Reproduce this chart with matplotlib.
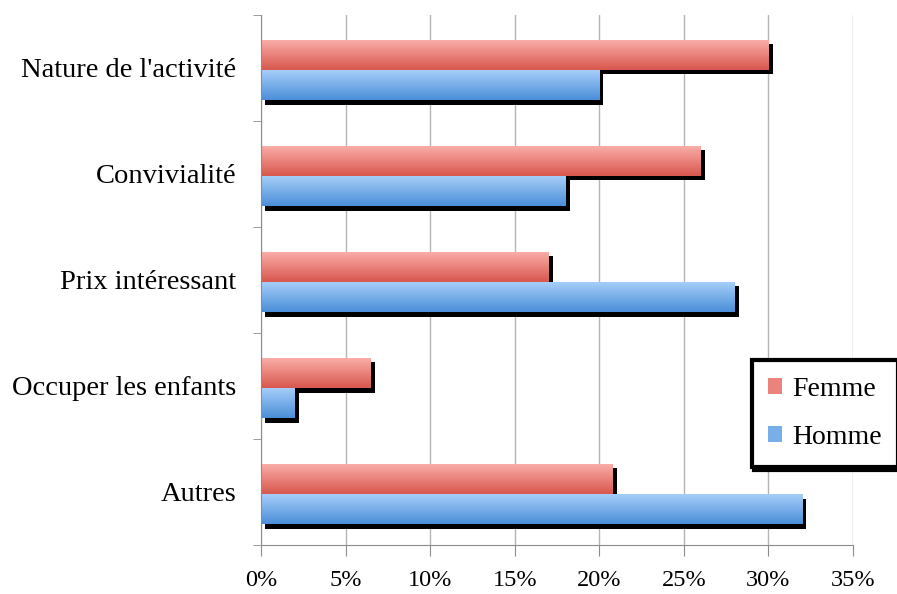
import matplotlib
matplotlib.use("Agg")
import matplotlib.pyplot as plt
import matplotlib.patheffects as pe
from matplotlib.colors import LinearSegmentedColormap
from matplotlib.patches import Patch
from matplotlib.ticker import FuncFormatter
import numpy as np

# Motifs de participation, par sexe (en %)
categories = ["Nature de l'activité", "Convivialité", "Prix intéressant",
              "Occuper les enfants", "Autres"]
femme = [30, 26, 17, 6.5, 20.8]
homme = [20, 18, 28, 2, 32]

plt.rcParams['font.family'] = ['Liberation Serif', 'DejaVu Serif']

fig = plt.figure(figsize=(8.97, 5.94), dpi=100)
ax = fig.add_axes([0.291, 0.0825, 0.66, 0.8925])

cmap_f = LinearSegmentedColormap.from_list('f', ['#fbb0ab', '#d8574e'])
cmap_h = LinearSegmentedColormap.from_list('h', ['#a9cffa', '#4a8fd8'])
grad = np.linspace(0, 1, 64).reshape(-1, 1)

y = np.arange(len(categories)) + 0.02
h = 0.285
shadow = [pe.SimplePatchShadow(offset=(3, -3.2), shadow_rgbFace='black', alpha=1.0), pe.Normal()]


def draw_bars(vals, pos, cmap, z):
    bars = ax.barh(pos, vals, height=h, color=cmap(0.5), zorder=z)
    for b in bars:
        b.set_path_effects(shadow)
        x0, y0 = b.get_x(), b.get_y()
        w, hh = b.get_width(), b.get_height()
        im = ax.imshow(grad, cmap=cmap, aspect='auto', origin='upper',
                       extent=(x0, x0 + w, y0 + hh, y0), zorder=z + 0.05)
        im.set_clip_path(b)
    return bars


draw_bars(femme, y - h / 2, cmap_f, 2)
draw_bars(homme, y + h / 2, cmap_h, 2.2)

ax.set_xlim(0, 35)
ax.set_ylim(len(categories) - 0.5, -0.5)
ax.set_xticks(np.arange(0, 36, 5))
ax.xaxis.set_major_formatter(FuncFormatter(lambda v, p: f"{v:.0f}%"))
ax.set_yticks(np.arange(len(categories)))
ax.set_yticklabels(categories)
ax.set_yticks(np.arange(-0.5, len(categories)), minor=True)

ax.set_axisbelow(True)
ax.grid(axis='x', color='#b5b5b5', linewidth=1)
for s in ['top', 'right']:
    ax.spines[s].set_visible(False)
for s in ['left', 'bottom']:
    ax.spines[s].set_color('#8c8c8c')
ax.tick_params(axis='y', which='major', length=0, pad=18, labelsize=20.5)
ax.tick_params(axis='y', which='minor', length=6, color='#8c8c8c')
ax.tick_params(axis='x', length=8, color='#8c8c8c', pad=10, labelsize=17.5)

handles = [Patch(facecolor=cmap_f(0.5), label='Femme'),
           Patch(facecolor=cmap_h(0.5), label='Homme')]
leg = fig.legend(handles=handles, loc='upper left', bbox_to_anchor=(0.838, 0.394),
                 fontsize=20, frameon=True, fancybox=False, handlelength=0.5,
                 handleheight=0.5, handletextpad=0.35, labelspacing=0.85,
                 borderpad=0.6, borderaxespad=0,
                 shadow={'color': 'black', 'alpha': 1.0})
leg.get_frame().set_edgecolor('black')
leg.get_frame().set_linewidth(3)

fig.savefig('out.png', dpi=100)
